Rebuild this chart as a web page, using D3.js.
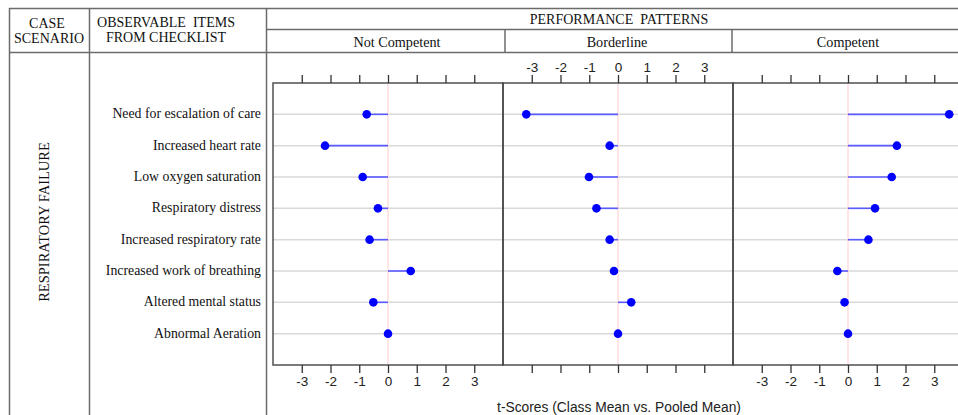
<!DOCTYPE html>
<html>
<head>
<meta charset="utf-8">
<script src="https://cdn.jsdelivr.net/npm/d3@7"></script>
<style>
  body { margin: 0; background: #fff; }
  svg { display: block; }
</style>
</head>
<body>
<script>
const items = [
  "Need for escalation of care",
  "Increased heart rate",
  "Low oxygen saturation",
  "Respiratory distress",
  "Increased respiratory rate",
  "Increased work of breathing",
  "Altered mental status",
  "Abnormal Aeration",
];
const patterns = ["Not Competent", "Borderline", "Competent"];
const notCompetent = [-0.74, -2.19, -0.88, -0.35, -0.64, 0.79, -0.51, 0.0];
const borderline = [-3.19, -0.29, -1.01, -0.75, -0.29, -0.14, 0.46, 0.0];
const competent = [3.52, 1.7, 1.52, 0.94, 0.71, -0.37, -0.12, 0.0];
const tickValues = [-3, -2, -1, 0, 1, 2, 3];

const series = [notCompetent, borderline, competent];

const W = 958, H = 415;
const svg = d3.select("body").append("svg").attr("width", W).attr("height", H);

const serif = "'Liberation Serif', 'Times New Roman', serif";
const sans = "'Liberation Sans', Arial, sans-serif";
const lineCol = "#6b6b6b";

// table frame
const tbl = svg.append("g").attr("stroke", lineCol).attr("stroke-width", 1.5).attr("fill", "none");
tbl.append("line").attr("x1", 9).attr("x2", W).attr("y1", 8.5).attr("y2", 8.5);
tbl.append("line").attr("x1", 9).attr("x2", W).attr("y1", 52.5).attr("y2", 52.5);
tbl.append("line").attr("x1", 266).attr("x2", W).attr("y1", 29.5).attr("y2", 29.5);
[9.5, 89.5, 266.5].forEach((x) =>
  tbl.append("line").attr("x1", x).attr("x2", x).attr("y1", 8).attr("y2", H)
);
[505, 732].forEach((x) =>
  tbl.append("line").attr("x1", x).attr("x2", x).attr("y1", 29).attr("y2", 52)
);

// header texts
const hdr = svg.append("g").attr("font-family", serif).attr("font-size", 14).attr("fill", "#111")
  .attr("text-anchor", "middle");
hdr.append("text").attr("x", 47).attr("y", 28).text("CASE");
hdr.append("text").attr("x", 49).attr("y", 43).text("SCENARIO");
hdr.append("text").attr("x", 166).attr("y", 27).attr("xml:space", "preserve").text("OBSERVABLE  ITEMS");
hdr.append("text").attr("x", 166).attr("y", 42).text("FROM CHECKLIST");
hdr.append("text").attr("x", 619).attr("y", 23.5).attr("xml:space", "preserve").text("PERFORMANCE  PATTERNS");

const pw = 230, px0 = 273, plotTop = 83, plotBottom = 365;
const subCenters = [397, 617, 848];
patterns.forEach((p, i) =>
  hdr.append("text").attr("x", subCenters[i]).attr("y", 47).attr("font-size", 14.2).text(p)
);

// row labels
const y = d3.scalePoint().domain(items).range([plotTop, plotBottom]).padding(1);

svg.append("g").attr("font-family", serif).attr("font-size", 13.8).attr("fill", "#111")
  .attr("text-anchor", "end")
  .selectAll("text").data(items).enter().append("text")
  .attr("x", 261).attr("y", (d) => y(d) + 4)
  .text((d) => d);

svg.append("text")
  .attr("font-family", serif).attr("font-size", 14.5).attr("fill", "#111")
  .attr("text-anchor", "middle")
  .attr("transform", "translate(49,222) rotate(-90)")
  .text("RESPIRATORY FAILURE");

// gridlines across panels
svg.append("g").selectAll("line").data(items).enter().append("line")
  .attr("x1", px0).attr("x2", W)
  .attr("y1", (d) => y(d)).attr("y2", (d) => y(d))
  .attr("stroke", "#d9d9d9").attr("stroke-width", 1.5);

const fmt = (d) => String(d);

series.forEach((vals, i) => {
  const x0 = px0 + i * pw;
  const x = d3.scaleLinear().domain([-4, 4]).range([x0, x0 + pw]);
  const g = svg.append("g");

  g.append("line").attr("x1", x(0)).attr("x2", x(0)).attr("y1", plotTop).attr("y2", plotBottom)
    .attr("stroke", "#ffcccc").attr("stroke-width", 1);

  const rows = items.map((d, j) => ({ item: d, v: vals[j] }));
  g.selectAll("line.seg").data(rows).enter().append("line").attr("class", "seg")
    .attr("x1", x(0)).attr("x2", (d) => x(d.v))
    .attr("y1", (d) => y(d.item)).attr("y2", (d) => y(d.item))
    .attr("stroke", "#5a5aff").attr("stroke-width", 1.6);
  g.selectAll("circle").data(rows).enter().append("circle")
    .attr("cx", (d) => x(d.v)).attr("cy", (d) => y(d.item)).attr("r", 4.3)
    .attr("fill", "#0000ff");

  // panel frame
  g.append("rect").attr("x", x0).attr("y", plotTop).attr("width", pw).attr("height", plotBottom - plotTop)
    .attr("fill", "none").attr("stroke", "#444").attr("stroke-width", 1.4);

  const topAxis = d3.axisTop(x).tickValues(tickValues).tickSize(8).tickSizeOuter(0)
    .tickFormat(i === 1 ? fmt : () => "");
  const botAxis = d3.axisBottom(x).tickValues(tickValues).tickSize(8).tickSizeOuter(0)
    .tickFormat(i === 1 ? () => "" : fmt);

  [[topAxis, plotTop], [botAxis, plotBottom]].forEach(([ax, yy]) => {
    const a = g.append("g").attr("transform", `translate(0,${yy})`).call(ax);
    a.select(".domain").remove();
    a.selectAll("line").attr("stroke", "#333").attr("stroke-width", 1.3);
    a.selectAll("text").attr("font-family", sans).attr("font-size", 13.5).attr("fill", "#222");
  });
});

svg.append("text")
  .attr("x", 619).attr("y", 412)
  .attr("font-family", sans).attr("font-size", 13.8).attr("fill", "#222")
  .attr("text-anchor", "middle")
  .text("t-Scores (Class Mean vs. Pooled Mean)");
</script>
</body>
</html>
